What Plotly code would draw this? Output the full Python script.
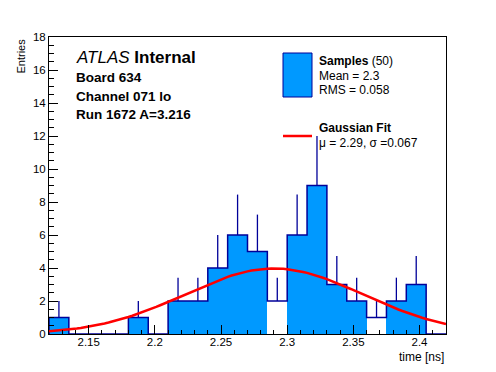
import numpy as np
import plotly.graph_objects as go

# ---- data ----
bin_low = 2.12
bin_width = 0.015
counts = [1, 0, 0, 0, 1, 0, 2, 2, 4, 6, 5, 2, 6, 9, 3, 2, 1, 2, 3, 0]
hollow_bins = [11, 16]          # bins drawn without fill in the reference
fit_const = 3.97
fit_mean = 2.29
fit_sigma = 0.067
x_range = [2.12, 2.42]
y_range = [0, 18]
legend_samples = ("<b>Samples</b> (50)", "Mean = 2.3", "RMS = 0.058")
legend_fit = ("<b>Gaussian Fit</b>", "μ = 2.29, σ =0.067")
info_lines = ["<i>ATLAS</i> <b>Internal</b>", "<b>Board 634</b>", "<b>Channel 071 lo</b>", "<b>Run 1672 A=3.216</b>"]

FILL = "rgb(0,153,255)"
EDGE = "rgb(0,0,153)"
FONT = "Liberation Sans, Arial, sans-serif"

n = len(counts)
edges = [bin_low + i * bin_width for i in range(n + 1)]
centers = [bin_low + (i + 0.5) * bin_width for i in range(n)]
colors = ["white" if i in hollow_bins else FILL for i in range(n)]

fig = go.Figure()
fig.add_trace(go.Bar(x=centers, y=counts, width=bin_width, marker=dict(color=colors, line=dict(width=0)),
                     showlegend=False, hoverinfo="skip"))
fig.add_trace(go.Scatter(x=centers, y=counts, mode="markers",
                         marker=dict(size=1, color="rgba(0,0,0,0)"),
                         error_y=dict(type="data", symmetric=False, array=list(np.sqrt(counts)),
                                      arrayminus=[0] * n, width=0, thickness=1.3, color=EDGE),
                         showlegend=False, hoverinfo="skip"))
fig.add_trace(go.Scatter(x=[edges[0]] + edges, y=[0] + counts + [0], mode="lines",
                         line=dict(shape="hv", color=EDGE, width=1.5), showlegend=False, hoverinfo="skip"))
gx = np.linspace(x_range[0], x_range[1], 101)
gy = fit_const * np.exp(-0.5 * ((gx - fit_mean) / fit_sigma) ** 2)
fig.add_trace(go.Scatter(x=gx, y=gy, mode="lines", line=dict(color="red", width=2.5),
                         showlegend=False, hoverinfo="skip"))

L, R, T, B = 49, 50, 37, 38
W, H = 496, 372
pw, ph = W - L - R, H - T - B

def px(X):
    return (X - L) / pw

def py(Y):
    return (H - B - Y) / ph

shapes = [
    dict(type="rect", xref="paper", yref="paper", x0=px(283), x1=px(312), y0=py(97), y1=py(53),
         fillcolor=FILL, line=dict(color=EDGE, width=1)),
    dict(type="line", xref="paper", yref="paper", x0=px(283), x1=px(312), y0=py(136), y1=py(136),
         line=dict(color="red", width=2.5)),
]
ann = []
def text(t, X, Y, size, xanchor="left"):
    ann.append(dict(text=t, x=px(X), y=py(Y), xref="paper", yref="paper", showarrow=False,
                    xanchor=xanchor, yanchor="middle", font=dict(family=FONT, size=size, color="black")))

text(legend_samples[0], 317, 61, 12)
text(legend_samples[1], 317, 76, 12)
text(legend_samples[2], 317, 90, 12)
text(legend_fit[0], 317, 128, 12)
text(legend_fit[1], 317, 143, 12)
text(info_lines[0], 74, 57, 17)
for t, Y in zip(info_lines[1:], [77, 96, 114]):
    text(t, 74, Y, 13.5)
text("time [ns]", W - R, 357, 12, xanchor="right")
ann.append(dict(text="Entries", x=px(20), y=1.0, xref="paper", yref="paper", showarrow=False,
                textangle=-90, xanchor="center", yanchor="top",
                font=dict(family=FONT, size=11, color="black")))

fig.update_layout(
    width=W, height=H, margin=dict(l=L, r=R, t=T, b=B),
    paper_bgcolor="white", plot_bgcolor="white", bargap=0,
    shapes=shapes, annotations=ann, font=dict(family=FONT, size=11.5, color="black"),
)
fig.update_xaxes(range=x_range, dtick=0.05, tick0=2.0, ticks="inside", ticklen=9, tickcolor="black",
                 minor=dict(dtick=0.01, ticks="inside", ticklen=4, tickcolor="black"),
                 showline=True, linecolor="black", linewidth=1, mirror=True, showgrid=False, zeroline=False,
                 tickfont=dict(size=11.5), ticklabelstandoff=-3)
fig.update_yaxes(range=y_range, dtick=2, ticks="inside", ticklen=9, tickcolor="black",
                 minor=dict(dtick=0.5, ticks="inside", ticklen=5, tickcolor="black"),
                 showline=True, linecolor="black", linewidth=1, mirror=True, showgrid=False, zeroline=False,
                 tickfont=dict(size=11.5))
fig.write_html("out.html", config={"displayModeBar": False},
               post_script="document.body.style.margin='0';document.body.style.overflow='hidden';")
